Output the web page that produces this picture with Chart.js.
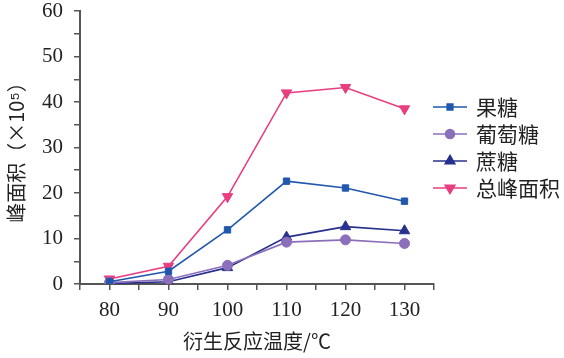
<!DOCTYPE html>
<html>
<head>
<meta charset="utf-8">
<script src="https://cdn.jsdelivr.net/npm/chart.js@4/dist/chart.umd.min.js"></script>
<style>
  body { margin: 0; background: #fff; }
</style>
</head>
<body>
<canvas id="chart" width="564" height="358"></canvas>
<script>
// temperatures (°C) and peak areas (×10^5)
const temps = [80, 90, 100, 110, 120, 130];
const fructose = [0.5, 2.8, 11.9, 22.6, 21.1, 18.2];
const glucose = [0.3, 1.0, 4.1, 9.2, 9.7, 8.9];
const sucrose = [0.1, 0.5, 3.6, 10.3, 12.6, 11.7];
const total = [1.1, 3.9, 19.2, 42.0, 43.2, 38.5];
const seriesNames = ["果糖", "葡萄糖", "蔗糖", "总峰面积"];

const cjk = "'Noto Sans CJK SC', sans-serif";
const serif = "'Liberation Serif', 'DejaVu Serif', serif";

function pts(vals) {
  return vals.map((v, i) => ({ x: temps[i], y: v }));
}

function makeSet(label, vals, color, style, radius, rotation) {
  return {
    label: label,
    data: pts(vals),
    borderColor: color,
    backgroundColor: color,
    borderWidth: 1.6,
    pointStyle: style,
    pointRadius: radius,
    pointRotation: rotation || 0,
    pointBorderWidth: 1,
    tension: 0,
  };
}

// legend with line + marker, drawn on the right
const sideLegend = {
  id: "sideLegend",
  afterDraw(chart) {
    const ctx = chart.ctx;
    ctx.save();
    chart.data.datasets.forEach((ds, i) => {
      const y = 107 + i * 27;
      ctx.strokeStyle = ds.borderColor;
      ctx.lineWidth = 1.6;
      ctx.beginPath();
      ctx.moveTo(433, y);
      ctx.lineTo(467, y);
      ctx.stroke();
      ctx.fillStyle = ds.backgroundColor;
      Chart.helpers.drawPoint(ctx, {
        pointStyle: ds.pointStyle,
        radius: ds.pointRadius - 0.5,
        rotation: ds.pointRotation,
        borderWidth: 1,
      }, 450, y);
      ctx.fillStyle = "#222";
      ctx.font = "21px " + cjk;
      ctx.textBaseline = "middle";
      ctx.textAlign = "left";
      ctx.fillText(ds.label, 476, y);
    });
    ctx.restore();
  },
};

const ctx = document.getElementById("chart").getContext("2d");
new Chart(ctx, {
  type: "line",
  data: {
    datasets: [
      makeSet(seriesNames[0], fructose, "#2157ad", "rect", 4.5),
      makeSet(seriesNames[1], glucose, "#8c6fba", "circle", 5),
      makeSet(seriesNames[2], sucrose, "#27308c", "triangle", 6),
      makeSet(seriesNames[3], total, "#e83e80", "triangle", 6, 180),
    ],
  },
  options: {
    responsive: false,
    animation: false,
    layout: { padding: { top: 11, right: 130, left: 4, bottom: 0 } },
    plugins: {
      legend: { display: false },
      tooltip: { enabled: false },
    },
    scales: {
      x: {
        type: "linear",
        min: 75,
        max: 135,
        afterFit(scale) { scale.height = 74; },
        border: { color: "#555", width: 2 },
        grid: { drawOnChartArea: false, tickLength: 6, color: "#555", lineWidth: 1.5 },
        ticks: {
          stepSize: 5,
          autoSkip: false,
          maxRotation: 0,
          padding: 8,
          color: "#222",
          font: { family: serif, size: 21 },
          callback: (v) => (v % 10 === 0 ? String(v) : ""),
        },
        title: {
          display: true,
          text: "衍生反应温度/℃",
          color: "#222",
          font: { family: cjk, size: 20 },
          padding: { top: 0, bottom: 5 },
        },
      },
      y: {
        min: 0,
        max: 60,
        afterFit(scale) {
          scale.width = 76;
          scale.paddingTop = 0;
          scale.paddingBottom = 0;
        },
        border: { color: "#555", width: 2 },
        grid: { drawOnChartArea: false, tickLength: 6, color: "#555", lineWidth: 1.5 },
        ticks: {
          stepSize: 5,
          autoSkip: false,
          padding: 11,
          color: "#222",
          font: { family: serif, size: 21 },
          callback: (v) => (v % 10 === 0 ? String(v) : ""),
        },
        title: {
          display: true,
          text: "峰面积（×10⁵）",
          color: "#222",
          font: { family: cjk, size: 20 },
          padding: { top: 0, bottom: 0 },
        },
      },
    },
  },
  plugins: [sideLegend],
});
</script>
</body>
</html>
